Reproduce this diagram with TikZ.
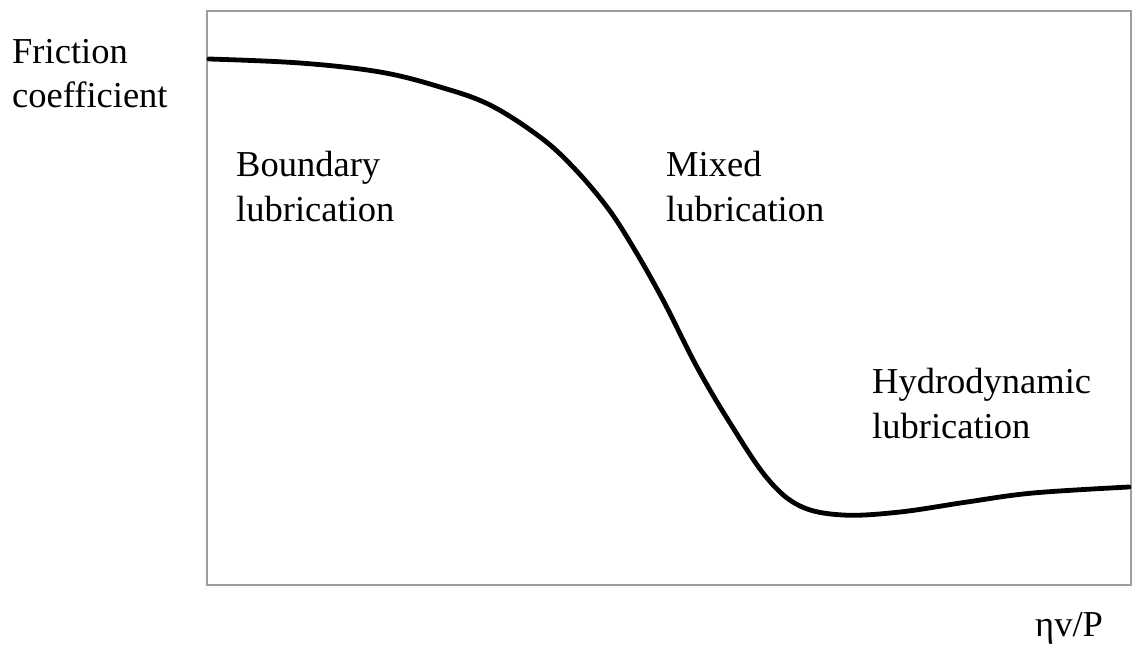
\documentclass[tikz,border=0pt]{standalone}
\usepackage{fontspec}
\setmainfont{Liberation Serif}
\begin{document}
\begin{tikzpicture}[x=1pt,y=-1pt,
  lbl/.style={anchor=base west, inner sep=0pt, font=\fontsize{36.5}{44}\selectfont},
  frame/.style={draw=black!38, line width=1.6pt},
  curve/.style={draw=black, line width=4.8pt, line cap=round, line join=round}]
\useasboundingbox (0,0) rectangle (1133,646);
\draw[frame] (207,11) rectangle (1131,585);
\draw[curve] plot[smooth, tension=0.6] coordinates {
  (209,59) (300,63) (380,72) (440,87) (490,105) (540,137) (573,167)
  (607,207) (633,247) (663,300) (697,367) (730,423) (767,478) (800,506)
  (843,515) (900,512) (967,502) (1033,493) (1129,487)};
\node[lbl] (fr1) at (12,63) {Friction};
\node[lbl] (fr2) at (12,107) {coefficient};
\node[lbl] (bd1) at (236,176) {Boundary};
\node[lbl] (bd2) at (236,221) {lubrication};
\node[lbl] (mx1) at (666,176) {Mixed};
\node[lbl] (mx2) at (666,221) {lubrication};
\node[lbl] (hd1) at (872,393) {Hydrodynamic};
\node[lbl] (hd2) at (872,438) {lubrication};
\node[lbl] (ax) at (1035,636) {ηv/P};
\end{tikzpicture}
\end{document}
